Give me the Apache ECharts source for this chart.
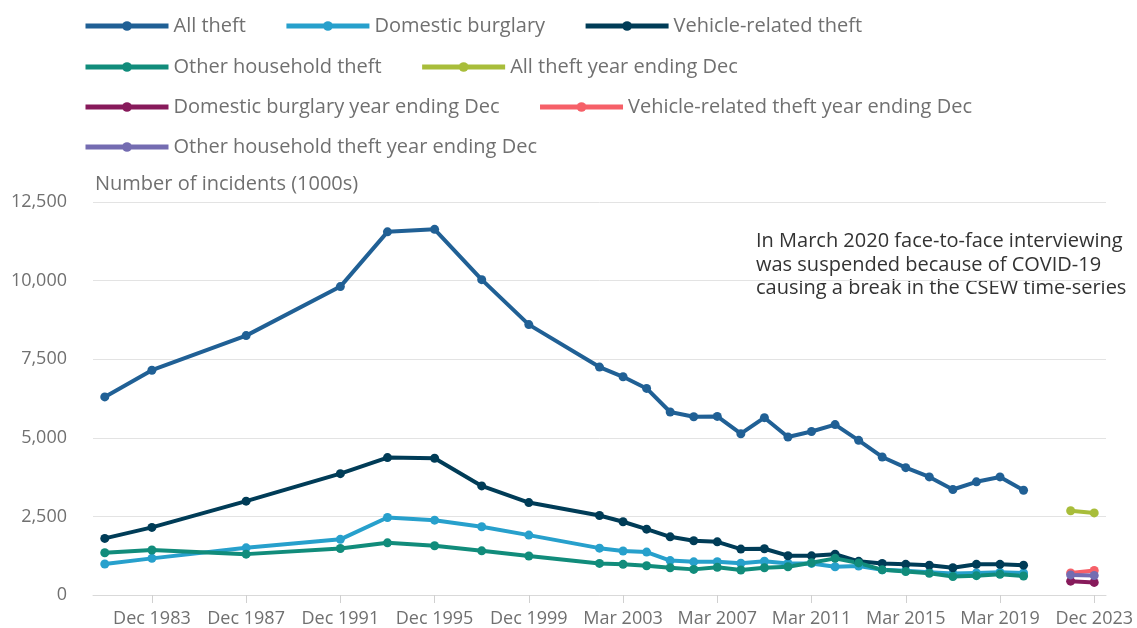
<!DOCTYPE html>
<html>
<head>
<meta charset="utf-8">
<script src="https://cdn.jsdelivr.net/npm/echarts@6/dist/echarts.min.js"></script>
<style>
    html, body { margin: 0; padding: 0; background: #fff; }
    #main { width: 1137px; height: 628px; }
</style>
</head>
<body>
<div id="main"></div>
<script>
// categories (survey periods)
var categories = [
    'Dec 1981', 'Dec 1982', 'Dec 1983', 'Dec 1984', 'Dec 1985', 'Dec 1986', 'Dec 1987', 'Dec 1988',
    'Dec 1989', 'Dec 1990', 'Dec 1991', 'Dec 1992', 'Dec 1993', 'Dec 1994', 'Dec 1995', 'Dec 1996',
    'Dec 1997', 'Dec 1998', 'Dec 1999', 'Dec 2000', 'Dec 2001', 'Mar 2002', 'Mar 2003', 'Mar 2004',
    'Mar 2005', 'Mar 2006', 'Mar 2007', 'Mar 2008', 'Mar 2009', 'Mar 2010', 'Mar 2011', 'Mar 2012',
    'Mar 2013', 'Mar 2014', 'Mar 2015', 'Mar 2016', 'Mar 2017', 'Mar 2018', 'Mar 2019', 'Mar 2020',
    'Dec 2021', 'Dec 2022', 'Dec 2023'
];
var labelledCategories = ['Dec 1983', 'Dec 1987', 'Dec 1991', 'Dec 1995', 'Dec 1999', 'Mar 2003',
    'Mar 2007', 'Mar 2011', 'Mar 2015', 'Mar 2019', 'Dec 2023'];

var allTheft = [6300, null, 7150, null, null, null, 8250, null, null, null, 9810, null, 11550, null,
    11630, null, 10030, null, 8600, null, null, 7250, 6940, 6570, 5820, 5670, 5680, 5130, 5640, 5025,
    5200, 5420, 4920, 4390, 4050, 3755, 3355, 3600, 3755, 3330, null, null, null];
var domesticBurglary = [985, null, 1165, null, null, null, 1500, null, null, null, 1770, null, 2465, null,
    2380, null, 2170, null, 1905, null, null, 1490, 1400, 1365, 1095, 1055, 1060, 1010, 1075, 1005,
    1005, 900, 920, 800, 770, 720, 680, 700, 720, 700, null, null, null];
var vehicleTheft = [1800, null, 2150, null, null, null, 2985, null, null, null, 3860, null, 4370, null,
    4350, null, 3470, null, 2940, null, null, 2530, 2330, 2095, 1850, 1725, 1690, 1460, 1470, 1250,
    1245, 1295, 1070, 1005, 975, 945, 865, 975, 975, 950, null, null, null];
var otherHousehold = [1345, null, 1430, null, null, null, 1300, null, null, null, 1480, null, 1660, null,
    1565, null, 1405, null, 1240, null, null, 1005, 975, 930, 865, 815, 880, 795, 865, 900,
    1025, 1165, 1020, 800, 745, 690, 590, 615, 660, 605, null, null, null];
// year ending Dec (only the last two periods)
var allTheftDec = [];
var domesticBurglaryDec = [];
var vehicleTheftDec = [];
var otherHouseholdDec = [];
var decValues = {
    all: [2680, 2610],
    burglary: [440, 400],
    vehicle: [700, 780],
    other: [640, 620]
};
for (var i = 0; i < categories.length; i++) {
    var k = i - (categories.length - 2);
    allTheftDec.push(k >= 0 ? decValues.all[k] : null);
    domesticBurglaryDec.push(k >= 0 ? decValues.burglary[k] : null);
    vehicleTheftDec.push(k >= 0 ? decValues.vehicle[k] : null);
    otherHouseholdDec.push(k >= 0 ? decValues.other[k] : null);
}

var yTicks = [0, 2500, 5000, 7500, 10000, 12500];

var FONT = '"Open Sans", "Noto Sans", sans-serif';
var GREY = '#707070';

function line(name, data, color) {
    return {
        name: name,
        type: 'line',
        data: data,
        connectNulls: true,
        symbol: 'circle',
        symbolSize: 9,
        lineStyle: { width: 4, color: color },
        itemStyle: { color: color },
        emphasis: { disabled: true }
    };
}

function legendRow(top, names) {
    return {
        left: 78,
        top: top,
        orient: 'horizontal',
        itemWidth: 83,
        itemHeight: 12,
        itemGap: 38,
        data: names,
        lineStyle: { width: 5 },
        textStyle: { fontFamily: FONT, fontSize: 20, color: GREY }
    };
}

var chart = echarts.init(document.getElementById('main'), null, { renderer: 'canvas' });

var option = {
    animation: false,
    color: ['#206095', '#27a0cc', '#003c57', '#118c7b', '#a8bd3a', '#871a5b', '#f66068', '#746cb1'],
    legend: [
        legendRow(11, ['All theft', 'Domestic burglary', 'Vehicle-related theft']),
        legendRow(52, ['Other household theft', 'All theft year ending Dec']),
        legendRow(92, ['Domestic burglary year ending Dec', 'Vehicle-related theft year ending Dec']),
        legendRow(132, ['Other household theft year ending Dec'])
    ],
    grid: {
        left: 93,
        right: 31,
        top: 202,
        bottom: 33,
        containLabel: false
    },
    xAxis: {
        type: 'category',
        data: categories,
        boundaryGap: true,
        axisLine: { show: true, lineStyle: { color: '#d9d9d9' } },
        axisTick: {
            show: true,
            alignWithLabel: true,
            length: 8,
            lineStyle: { color: '#d0d0d0' },
            interval: function(idx, val) { return labelledCategories.indexOf(val) >= 0; }
        },
        axisLabel: {
            interval: function(idx, val) { return labelledCategories.indexOf(val) >= 0; },
            fontFamily: FONT,
            fontSize: 18,
            color: GREY,
            margin: 15
        }
    },
    yAxis: {
        type: 'value',
        min: yTicks[0],
        max: yTicks[yTicks.length - 1],
        interval: 2500,
        name: 'Number of incidents (1000s)',
        nameLocation: 'end',
        nameGap: 8,
        nameTextStyle: { fontFamily: FONT, fontSize: 20, color: GREY, align: 'left', padding: [0, 0, 0, 2] },
        axisLine: { show: false },
        axisTick: { show: false },
        axisLabel: {
            fontFamily: FONT,
            fontSize: 18,
            color: GREY,
            margin: 26,
            formatter: function(v) { return v.toLocaleString('en-GB'); }
        },
        splitLine: { lineStyle: { color: '#e3e3e3', width: 1 } }
    },
    graphic: [{
        type: 'text',
        left: 756,
        top: 230,
        style: {
            text: 'In March 2020 face-to-face interviewing\nwas suspended because of COVID-19\ncausing a break in the CSEW time-series',
            font: '20px ' + FONT,
            lineHeight: 23.5,
            fill: '#333333'
        }
    }],
    series: [
        line('All theft', allTheft, '#206095'),
        line('Domestic burglary', domesticBurglary, '#27a0cc'),
        line('Vehicle-related theft', vehicleTheft, '#003c57'),
        line('Other household theft', otherHousehold, '#118c7b'),
        line('All theft year ending Dec', allTheftDec, '#a8bd3a'),
        line('Domestic burglary year ending Dec', domesticBurglaryDec, '#871a5b'),
        line('Vehicle-related theft year ending Dec', vehicleTheftDec, '#f66068'),
        line('Other household theft year ending Dec', otherHouseholdDec, '#746cb1')
    ]
};
chart.setOption(option);
</script>
</body>
</html>
